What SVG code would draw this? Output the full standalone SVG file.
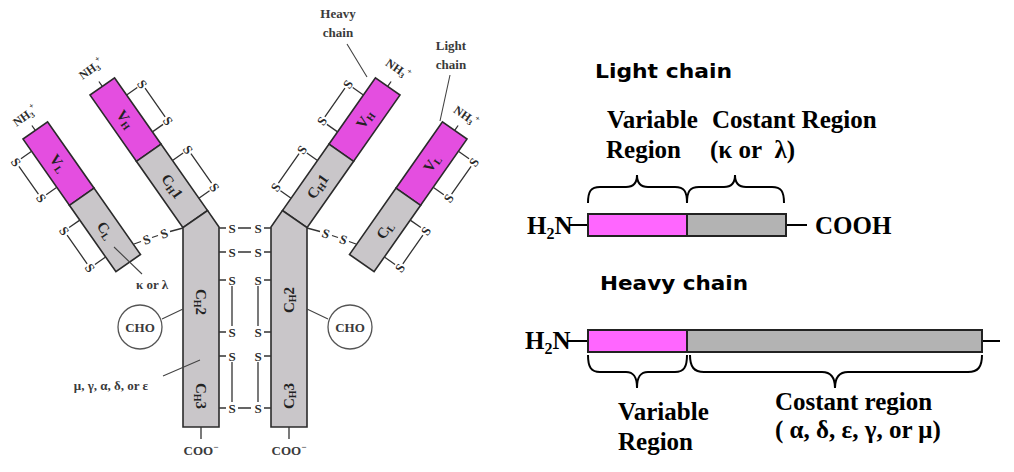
<svg xmlns="http://www.w3.org/2000/svg" width="1014" height="472" viewBox="0 0 1014 472">
<style>
.dv{fill:#e44ee0;stroke:#2b2b2b;stroke-width:1.6}
.dc{fill:#c9c6c9;stroke:#2b2b2b;stroke-width:1.6}
.bond{stroke:#333;stroke-width:1.3;fill:none}
.lead{stroke:#444;stroke-width:1.1;fill:none}
.s{font-family:"Liberation Serif",serif;font-weight:bold;font-size:13px;fill:#2a2a2a;text-anchor:middle;dominant-baseline:central}
.dt{font-family:"Liberation Serif",serif;font-weight:bold;font-size:15px;fill:#222;text-anchor:middle;dominant-baseline:central}
.lbl{font-family:"Liberation Serif",serif;font-weight:bold;font-size:13px;fill:#3a3a3a;text-anchor:middle}
.nh{font-family:"Liberation Serif",serif;font-weight:bold;font-size:12px;fill:#2a2a2a;text-anchor:middle;dominant-baseline:central}
.big{font-family:"Liberation Serif",serif;font-weight:bold;font-size:25px;fill:#000}
.hdr{font-family:"DejaVu Sans",sans-serif;font-weight:bold;font-size:19px;fill:#000}
.bv{fill:#ff66ff;stroke:#222;stroke-width:2}
.bc{fill:#b3b3b3;stroke:#222;stroke-width:2}
.ln{stroke:#000;stroke-width:2;fill:none}
.brace{stroke:#000;stroke-width:2;fill:none}
</style>

<!-- Antibody: left half -->
<g id="left-light-chain" transform="translate(23,139) rotate(55)">
  <rect class="dv" x="0" y="-30" width="81" height="30"/>
  <rect class="dc" x="81" y="-30" width="81" height="30"/>
  <text class="dt" x="40" y="-15">V<tspan font-size="10" dy="3">L</tspan></text>
  <text class="dt" x="122" y="-15">C<tspan font-size="10" dy="3">L</tspan></text>
</g>
<g id="left-heavy-arm" transform="translate(90,95) rotate(55)">
  <rect class="dv" x="0" y="-30" width="81" height="30"/>
  <rect class="dc" x="81" y="-30" width="81" height="30"/>
  <text class="dt" x="40" y="-15">V<tspan font-size="10" dy="3">H</tspan></text>
  <text class="dt" x="122" y="-15">C<tspan font-size="10" dy="3">H</tspan><tspan dy="-3">1</tspan></text>
</g>
<g id="left-heavy-stem">
  <polygon class="dc" points="183,227.7 207.6,210.5 219,227 219,427 183,427"/>
  <text class="dt" transform="translate(201,302) rotate(90)">C<tspan font-size="10" dy="3">H</tspan><tspan dy="-3">2</tspan></text>
  <text class="dt" transform="translate(201,396) rotate(90)">C<tspan font-size="10" dy="3">H</tspan><tspan dy="-3">3</tspan></text>
</g>

<!-- Antibody: right half -->
<g id="right-light-chain" transform="translate(467,139) rotate(-55)">
  <rect class="dv" x="-81" y="-30" width="81" height="30"/>
  <rect class="dc" x="-162" y="-30" width="81" height="30"/>
  <text class="dt" x="-40" y="-15">V<tspan font-size="10" dy="3">L</tspan></text>
  <text class="dt" x="-122" y="-15">C<tspan font-size="10" dy="3">L</tspan></text>
</g>
<g id="right-heavy-arm" transform="translate(400,95) rotate(-55)">
  <rect class="dv" x="-81" y="-30" width="81" height="30"/>
  <rect class="dc" x="-162" y="-30" width="81" height="30"/>
  <text class="dt" x="-40" y="-15">V<tspan font-size="10" dy="3">H</tspan></text>
  <text class="dt" x="-122" y="-15">C<tspan font-size="10" dy="3">H</tspan><tspan dy="-3">1</tspan></text>
</g>
<g id="right-heavy-stem">
  <polygon class="dc" points="307,227.7 282.4,210.5 271,227 271,427 307,427"/>
  <text class="dt" transform="translate(289,300) rotate(-90)">C<tspan font-size="10" dy="3">H</tspan><tspan dy="-3">2</tspan></text>
  <text class="dt" transform="translate(289,396) rotate(-90)">C<tspan font-size="10" dy="3">H</tspan><tspan dy="-3">3</tspan></text>
</g>

<g id="cho-left">
  <circle cx="140" cy="327" r="22" fill="#fff" stroke="#555" stroke-width="1.3"/>
  <text class="lbl" x="140" y="332">CHO</text>
</g>
<g id="cho-right">
  <circle cx="350" cy="327" r="22" fill="#fff" stroke="#555" stroke-width="1.3"/>
  <text class="lbl" x="350" y="332">CHO</text>
</g>

<g id="termini-labels">
  <text class="nh" transform="translate(25,116) rotate(-35)">NH<tspan font-size="8" dy="3">3</tspan><tspan font-size="8" dy="-8">+</tspan></text>
  <text class="nh" transform="translate(91,69) rotate(-35)">NH<tspan font-size="8" dy="3">3</tspan><tspan font-size="8" dy="-8">+</tspan></text>
  <text class="nh" transform="translate(398,69) rotate(35)">NH<tspan font-size="8" dy="3">3</tspan><tspan font-size="8" dy="-8">+</tspan></text>
  <text class="nh" transform="translate(466,116) rotate(35)">NH<tspan font-size="8" dy="3">3</tspan><tspan font-size="8" dy="-8">+</tspan></text>
  <text class="lbl" x="201" y="455">COO<tspan font-size="9" dy="-5">−</tspan></text>
  <text class="lbl" x="289" y="455">COO<tspan font-size="9" dy="-5">−</tspan></text>
</g>

<g id="annotations">
  <text class="lbl" x="338" y="18">Heavy</text>
  <text class="lbl" x="338" y="37">chain</text>
  <text class="lbl" x="451" y="50">Light</text>
  <text class="lbl" x="451" y="69">chain</text>
  <text class="lbl" x="152" y="289" font-size="12">κ or λ</text>
  <text class="lbl" x="111" y="390" font-size="12">μ, γ, α, δ, or ε</text>
</g>

<g id="connectors">
  <!-- intra-chain disulfides -->
  <g transform="translate(23,139) rotate(55)">
    <path class="bond" d="M15,0V13M59,0V13M20,19H54M99,0V13M144,0V13M104,19H139"/>
    <text class="s" x="15" y="19">S</text><text class="s" x="59" y="19">S</text>
    <text class="s" x="99" y="19">S</text><text class="s" x="144" y="19">S</text>
  </g>
  <g transform="translate(90,95) rotate(55)">
    <path class="bond" d="M21,-30V-43M66,-30V-43M26,-49H61M101,-30V-43M147,-30V-43M106,-49H142"/>
    <text class="s" x="21" y="-49">S</text><text class="s" x="66" y="-49">S</text>
    <text class="s" x="101" y="-49">S</text><text class="s" x="147" y="-49">S</text>
  </g>
  <g transform="translate(467,139) rotate(-55)">
    <path class="bond" d="M-15,0V13M-59,0V13M-20,19H-54M-99,0V13M-144,0V13M-104,19H-139"/>
    <text class="s" x="-15" y="19">S</text><text class="s" x="-59" y="19">S</text>
    <text class="s" x="-99" y="19">S</text><text class="s" x="-144" y="19">S</text>
  </g>
  <g transform="translate(400,95) rotate(-55)">
    <path class="bond" d="M-21,-30V-43M-66,-30V-43M-26,-49H-61M-101,-30V-43M-147,-30V-43M-106,-49H-142"/>
    <text class="s" x="-21" y="-49">S</text><text class="s" x="-66" y="-49">S</text>
    <text class="s" x="-101" y="-49">S</text><text class="s" x="-147" y="-49">S</text>
  </g>
  <!-- light-heavy disulfides -->
  <path class="bond" d="M134,244L141,241.5M152,237.5L158,235.5M170,231.5L183,228"/>
  <text class="s" transform="translate(146.5,239.5) rotate(-20)">S</text>
  <text class="s" transform="translate(164,233.5) rotate(-20)">S</text>
  <path class="bond" d="M356,244L349,241.5M338,237.5L332,235.5M320,231.5L307,228"/>
  <text class="s" transform="translate(343.5,239.5) rotate(20)">S</text>
  <text class="s" transform="translate(326,233.5) rotate(20)">S</text>
  <!-- inter-heavy disulfides -->
  <path class="bond" d="M219,228H226M238,228H251M264,228H271M219,252H226M238,252H251M264,252H271M219,280H226M264,280H271M232,286V326M258,286V326M219,332H226M264,332H271M219,356H226M264,356H271M232,362V402M258,362V402M219,408H226M238,408H251M264,408H271"/>
  <text class="s" x="232" y="228">S</text><text class="s" x="258" y="228">S</text>
  <text class="s" x="232" y="252">S</text><text class="s" x="258" y="252">S</text>
  <text class="s" x="232" y="280">S</text><text class="s" x="258" y="280">S</text>
  <text class="s" x="232" y="332">S</text><text class="s" x="258" y="332">S</text>
  <text class="s" x="232" y="356">S</text><text class="s" x="258" y="356">S</text>
  <text class="s" x="232" y="408">S</text><text class="s" x="258" y="408">S</text>
  <!-- termini ticks -->
  <path class="bond" d="M35.3,130.4L31.9,125.5M102.3,86.4L98.9,81.5M387.7,86.4L391.1,81.5M454.7,130.4L458.1,125.5M201,427V439M289,427V439"/>
  <!-- leaders -->
  <path class="lead" d="M347,44L367,77M450,75L440,121M114,247L142,274M163,376L200,360M162,319L183,309M328,319L307,309"/>
</g>

<!-- Right: linear schematics -->
<g id="light-chain-schematic">
  <text class="hdr" x="595" y="78" textLength="137" lengthAdjust="spacingAndGlyphs">Light chain</text>
  <text class="big" x="607" y="128">Variable</text>
  <text class="big" x="606" y="158">Region</text>
  <text class="big" x="712" y="128">Costant Region</text>
  <text class="big" x="710" y="158">(κ or&#160; λ)</text>
  <path class="brace" d="M588,203C588,191 591,187 600,187L626,187C633,187 637,184 637,175C637,184 641,187 648,187L675,187C684,187 687,191 687,203"/>
  <path class="brace" d="M687,203C687,191 690,187 699,187L724,187C731,187 735,184 735,175C735,184 739,187 746,187L772,187C781,187 784,191 784,203"/>
  <path class="ln" d="M569,225H588M786,225H807"/>
  <rect class="bv" x="588" y="214" width="99" height="22"/>
  <rect class="bc" x="687" y="214" width="99" height="22"/>
  <text class="big" x="527" y="234">H<tspan font-size="16" dy="5">2</tspan><tspan dy="-5">N</tspan></text>
  <text class="big" x="815" y="234">COOH</text>
</g>

<g id="heavy-chain-schematic">
  <text class="hdr" x="600" y="290" textLength="148" lengthAdjust="spacingAndGlyphs">Heavy chain</text>
  <path class="ln" d="M567,341H588M982,341H1000"/>
  <rect class="bv" x="588" y="330" width="99" height="22"/>
  <rect class="bc" x="687" y="330" width="295" height="22"/>
  <text class="big" x="525" y="349">H<tspan font-size="16" dy="5">2</tspan><tspan dy="-5">N</tspan></text>
  <path class="brace" d="M588,355C588,367 591,372 600,372L626,372C633,372 637,376 637,388C637,376 641,372 648,372L675,372C684,372 687,367 687,355"/>
  <path class="brace" d="M690,355C690,367 694,372 704,372L822,372C830,372 835,376 835,388C835,376 840,372 848,372L968,372C978,372 982,367 982,355"/>
  <text class="big" x="618" y="420">Variable</text>
  <text class="big" x="618" y="450">Region</text>
  <text class="big" x="775" y="410">Costant region</text>
  <text class="big" x="775" y="438">( α, δ, ε, γ, or μ)</text>
</g>
</svg>
